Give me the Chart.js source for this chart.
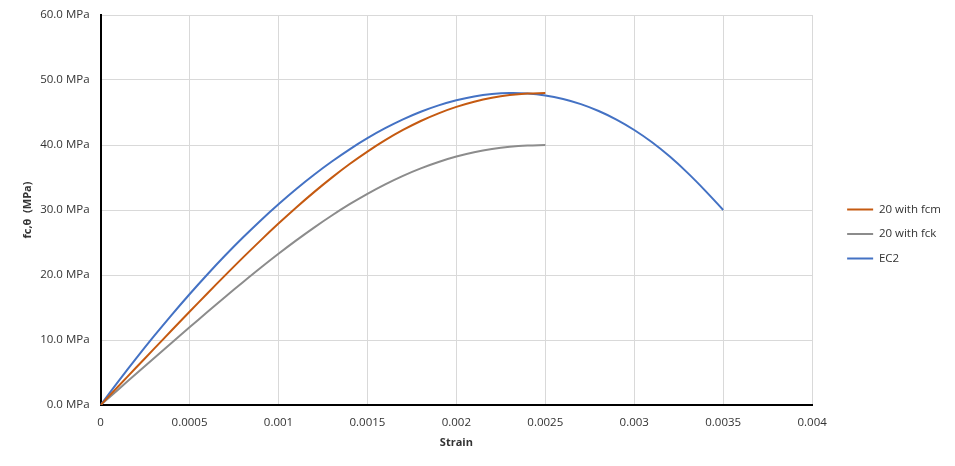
<!DOCTYPE html>
<html>
<head>
<meta charset="utf-8">
<script src="https://cdn.jsdelivr.net/npm/chart.js@4"></script>
<style>
  html, body { margin: 0; padding: 0; background: #fff; }
  #wrap { width: 955px; height: 466px; }
</style>
</head>
<body>
<div id="wrap"><canvas id="chart"></canvas></div>
<script>
// strain values (shared by all series)
const strain = [0, 0.0001, 0.0002, 0.0003, 0.0004, 0.0005, 0.0006, 0.0007, 0.0008, 0.0009,
    0.0010, 0.0011, 0.0012, 0.0013, 0.0014, 0.0015, 0.0016, 0.0017, 0.0018, 0.0019,
    0.0020, 0.0021, 0.0022, 0.0023, 0.0024, 0.0025, 0.0026, 0.0027, 0.0028, 0.0029,
    0.0030, 0.0031, 0.0032, 0.0033, 0.0034, 0.0035];

// stress in MPa
const fcm20 = [0, 2.88, 5.76, 8.63, 11.50, 14.34, 17.16, 19.94, 22.67, 25.33,
    27.91, 30.39, 32.75, 34.98, 37.07, 38.99, 40.74, 42.31, 43.69, 44.87,
    45.86, 46.65, 47.26, 47.68, 47.92, 48.00];
const fck20 = [0, 2.40, 4.80, 7.19, 9.58, 11.95, 14.30, 16.62, 18.89, 21.11,
    23.26, 25.32, 27.29, 29.15, 30.89, 32.49, 33.95, 35.26, 36.41, 37.39,
    38.22, 38.88, 39.38, 39.73, 39.93, 40.00];
const ec2 = [0, 3.64, 7.17, 10.58, 13.87, 17.04, 20.08, 22.99, 25.76, 28.40,
    30.89, 33.24, 35.43, 37.46, 39.34, 41.05, 42.58, 43.94, 45.11, 46.09,
    46.88, 47.47, 47.84, 48.00, 47.93, 47.63, 47.08, 46.29, 45.23, 43.91,
    42.31, 40.42, 38.22, 35.71, 32.95, 30.00];

const seriesNames = ['20 with fcm', '20 with fck', 'EC2'];
const seriesColors = ['#C55A11', '#8C8C8C', '#4472C4'];
const xTicks = [0, 0.0005, 0.001, 0.0015, 0.002, 0.0025, 0.003, 0.0035, 0.004];

const toPoints = arr => arr.map((v, i) => ({ x: strain[i], y: v }));

const font = { family: 'Open Sans, sans-serif', size: 11.5 };
const boldFont = { family: 'Open Sans, sans-serif', size: 11, weight: 'bold' };
const textColor = '#333333';

// push the legend a bit away from the plot area
const legendGap = {
    id: 'legendGap',
    afterLayout(chart) {
        const lg = chart.legend;
        if (lg) {
            lg.left += 22;
            lg.right += 22;
        }
    }
};

new Chart(document.getElementById('chart'), {
    type: 'scatter',
    data: {
        datasets: [fcm20, fck20, ec2].map((arr, i) => ({
            label: seriesNames[i],
            data: toPoints(arr),
            borderColor: seriesColors[i],
            backgroundColor: seriesColors[i],
            showLine: true,
            pointRadius: 0,
            borderWidth: 2,
            tension: 0.4
        }))
    },
    options: {
        responsive: true,
        maintainAspectRatio: false,
        animation: false,
        layout: { padding: { left: 17, right: 26, top: 15, bottom: 13 } },
        plugins: {
            tooltip: { enabled: false },
            legend: {
                position: 'right',
                labels: {
                    usePointStyle: true,
                    pointStyle: 'line',
                    pointStyleWidth: 26,
                    color: textColor,
                    font: font,
                    padding: 13
                }
            }
        },
        scales: {
            x: {
                type: 'linear',
                min: 0,
                max: 0.004,
                afterBuildTicks: axis => { axis.ticks = xTicks.map(v => ({ value: v })); },
                ticks: {
                    color: textColor,
                    font: font,
                    maxRotation: 0,
                    padding: 11,
                    callback: v => String(+v.toFixed(4))
                },
                grid: { color: '#D9D9D9', drawTicks: false },
                border: { color: '#000', width: 2 },
                title: { display: true, text: 'Strain', color: textColor, font: boldFont, padding: { top: -5 } }
            },
            y: {
                min: 0,
                max: 60,
                afterFit: s => { s.paddingTop = 0; },
                ticks: {
                    stepSize: 10,
                    color: textColor,
                    font: font,
                    padding: 11,
                    callback: v => v.toFixed(1) + ' MPa'
                },
                grid: { color: '#D9D9D9', drawTicks: false },
                border: { color: '#000', width: 2 },
                title: { display: true, text: 'fc,θ  (MPa)', color: textColor, font: boldFont, padding: { bottom: -5 } }
            }
        }
    },
    plugins: [legendGap]
});
</script>
</body>
</html>
